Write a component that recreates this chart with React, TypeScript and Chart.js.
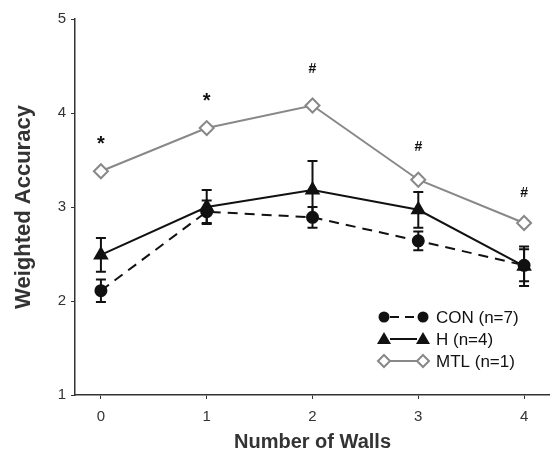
import React, { useEffect, useRef } from "react";
import { Chart, registerables } from "chart.js";

Chart.register(...registerables);

const walls = [0, 1, 2, 3, 4];
const yTicks = [1, 2, 3, 4, 5];
const conMean = [2.11, 2.95, 2.89, 2.64, 2.38];
const conErr = [0.12, 0.12, 0.11, 0.1, 0.17];
const hMean = [2.49, 3.0, 3.18, 2.97, 2.37];
const hErr = [0.18, 0.18, 0.31, 0.19, 0.21];
const mtlMean = [3.38, 3.84, 4.08, 3.29, 2.83];
const markLabels = ["*", "*", "#", "#", "#"];
const markY = [3.71, 4.17, 4.47, 3.64, 3.15];
const legendLabels = ["CON (n=7)", "H (n=4)", "MTL (n=1)"];

const errs = [conErr, hErr, null];

const zeroPad = (s: any) => {
  s.paddingLeft = 0;
  s.paddingRight = 0;
  s.paddingTop = 0;
  s.paddingBottom = 0;
};

const overlay = {
  id: "overlay",
  beforeDatasetsDraw(chart: any) {
    const ctx = chart.ctx;
    const xs = chart.scales.x;
    const ys = chart.scales.y;
    ctx.save();
    ctx.strokeStyle = "#111";
    ctx.lineWidth = 2;
    [conMean, hMean].forEach((means, di) => {
      const e = errs[di] as number[];
      means.forEach((m, i) => {
        const px = xs.getPixelForValue(walls[i]);
        const top = ys.getPixelForValue(m + e[i]);
        const bot = ys.getPixelForValue(m - e[i]);
        ctx.beginPath();
        ctx.moveTo(px, top);
        ctx.lineTo(px, bot);
        ctx.moveTo(px - 5, top);
        ctx.lineTo(px + 5, top);
        ctx.moveTo(px - 5, bot);
        ctx.lineTo(px + 5, bot);
        ctx.stroke();
      });
    });
    ctx.restore();
  },
  afterDatasetsDraw(chart: any) {
    const ctx = chart.ctx;
    const xs = chart.scales.x;
    const ys = chart.scales.y;
    ctx.save();
    ctx.fillStyle = "#111";
    ctx.textAlign = "center";
    ctx.textBaseline = "middle";
    markLabels.forEach((t, i) => {
      ctx.font = t === "*" ? "bold 20px Arial, 'Liberation Sans'" : "bold 14px Arial, 'Liberation Sans'";
      ctx.fillText(t, xs.getPixelForValue(walls[i]), ys.getPixelForValue(markY[i]) + (t === "*" ? 4 : 0));
    });
    // legend
    const x0 = 384, x1 = 423, tx = 436;
    const rows = [317, 339, 361];
    ctx.textAlign = "left";
    ctx.font = "17px Arial, 'Liberation Sans'";
    rows.forEach((ry, i) => {
      ctx.beginPath();
      ctx.lineWidth = 2;
      if (i === 0) { ctx.setLineDash([9, 6]); ctx.strokeStyle = "#111"; }
      else if (i === 1) { ctx.setLineDash([]); ctx.strokeStyle = "#111"; }
      else { ctx.setLineDash([]); ctx.strokeStyle = "#888"; }
      ctx.moveTo(x0 + 6, ry);
      ctx.lineTo(x1 - 6, ry);
      ctx.stroke();
      ctx.setLineDash([]);
      [x0, x1].forEach((mx) => {
        ctx.beginPath();
        if (i === 0) {
          ctx.fillStyle = "#111";
          ctx.arc(mx, ry, 5.5, 0, Math.PI * 2);
          ctx.fill();
        } else if (i === 1) {
          ctx.fillStyle = "#111";
          ctx.moveTo(mx, ry - 7);
          ctx.lineTo(mx + 7, ry + 5);
          ctx.lineTo(mx - 7, ry + 5);
          ctx.closePath();
          ctx.fill();
        } else {
          ctx.fillStyle = "#fff";
          ctx.strokeStyle = "#888";
          ctx.moveTo(mx, ry - 6);
          ctx.lineTo(mx + 6, ry);
          ctx.lineTo(mx, ry + 6);
          ctx.lineTo(mx - 6, ry);
          ctx.closePath();
          ctx.fill();
          ctx.stroke();
        }
      });
      ctx.fillStyle = "#111";
      ctx.fillText(legendLabels[i], tx, ry + 1);
    });
    ctx.restore();
  },
};

export default function App() {
  const ref = useRef<HTMLCanvasElement>(null);
  useEffect(() => {
    document.body.style.margin = "0";
    const toPts = (arr: number[]) => arr.map((v, i) => ({ x: walls[i], y: v }));
    const chart = new Chart(ref.current as HTMLCanvasElement, {
      type: "line",
      data: {
        datasets: [
          {
            label: legendLabels[2],
            data: toPts(mtlMean),
            borderColor: "#888",
            borderWidth: 2,
            pointStyle: "rectRot",
            pointRadius: 7,
            pointBorderWidth: 2,
            pointBackgroundColor: "#fff",
            pointBorderColor: "#888",
          },
          {
            label: legendLabels[0],
            data: toPts(conMean),
            borderColor: "#111",
            borderWidth: 2,
            borderDash: [10, 7],
            pointStyle: "circle",
            pointRadius: 5.5,
            pointBackgroundColor: "#111",
            pointBorderColor: "#111",
          },
          {
            label: legendLabels[1],
            data: toPts(hMean),
            borderColor: "#111",
            borderWidth: 2,
            pointStyle: "triangle",
            pointRadius: 7,
            pointBackgroundColor: "#111",
            pointBorderColor: "#111",
          },
        ],
      },
      options: {
        responsive: false,
        animation: false,
        layout: { autoPadding: false, padding: { top: 19, right: 0, left: 0, bottom: 0 } },
        plugins: { legend: { display: false }, tooltip: { enabled: false } },
        scales: {
          x: {
            type: "linear",
            min: -0.245,
            max: 4.245,
            afterBuildTicks: (s: any) => { s.ticks = walls.map((v) => ({ value: v })); },
            afterFit: (s: any) => { s.height = 57; zeroPad(s); },
            grid: { drawOnChartArea: false, drawTicks: true, tickLength: 4, color: "#333" },
            border: { display: true, color: "#333", width: 1.5 },
            ticks: { color: "#333", font: { size: 15, family: "Arial, 'Liberation Sans'" }, padding: 9 },
            title: {
              display: true,
              text: "Number of Walls",
              color: "#333",
              font: { size: 20, weight: "bold", family: "Arial, 'Liberation Sans'", lineHeight: 1.0 },
              padding: { top: 0, bottom: 0 },
            },
          },
          y: {
            min: 1,
            max: 5,
            afterBuildTicks: (s: any) => { s.ticks = yTicks.map((v) => ({ value: v })); },
            afterFit: (s: any) => { s.width = 75; zeroPad(s); },
            grid: { drawOnChartArea: false, drawTicks: true, tickLength: 4, color: "#333" },
            border: { display: true, color: "#333", width: 1.5 },
            ticks: { color: "#333", font: { size: 15, family: "Arial, 'Liberation Sans'" }, padding: 5 },
            title: {
              display: true,
              text: "Weighted Accuracy",
              color: "#333",
              font: { size: 22, weight: "bold", family: "Arial, 'Liberation Sans'" },
              padding: { top: 11, bottom: 0 },
            },
          },
        },
      },
      plugins: [overlay],
    } as any);
    return () => chart.destroy();
  }, []);
  return (
    <div style={{ width: 550, height: 452, overflow: "hidden" }}>
      <canvas ref={ref} width={550} height={452} style={{ display: "block" }} />
    </div>
  );
}
